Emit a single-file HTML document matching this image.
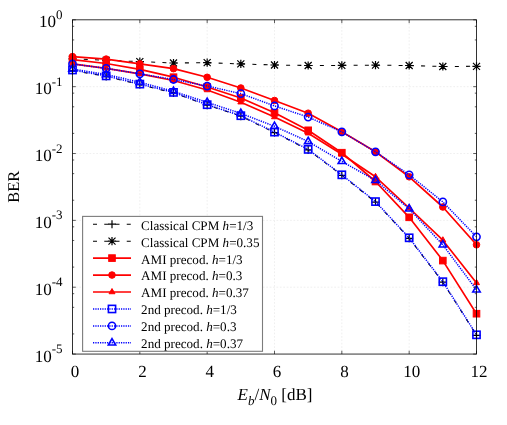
<!DOCTYPE html>
<html><head><meta charset="utf-8"><title>BER vs Eb/N0</title>
<style>
html,body{margin:0;padding:0;background:#fff;}
body{width:507px;height:425px;overflow:hidden;position:relative;font-family:"Liberation Serif",serif;}
svg{will-change:transform;}
svg text{font-family:"Liberation Serif",serif;text-rendering:geometricPrecision;}
</style></head><body>
<svg width="507" height="425" viewBox="0 0 507 425" style="position:absolute;left:0;top:0">
<rect width="507" height="425" fill="#ffffff"/>
<path d="M139.83 19.83V354.05M207.17 19.83V354.05M274.5 19.83V354.05M341.83 19.83V354.05M409.17 19.83V354.05M72.5 86.67H476.5M72.5 153.52H476.5M72.5 220.36H476.5M72.5 287.21H476.5" stroke="#ebebeb" stroke-width="0.8" stroke-dasharray="1.7 1.7" fill="none"/>
<defs><clipPath id="c"><rect x="72.5" y="19.83" width="404" height="334.22"/></clipPath></defs>
<g clip-path="url(#c)"><polyline points="72.5,70.5 106.17,76.4 139.83,84.6 173.5,92.9 207.17,105.2 240.83,116.2 274.5,132.6 308.17,149.9 341.83,175.3 375.5,202.1 409.17,238.3 442.83,282.2 476.5,335.3" fill="none" stroke="#000000" stroke-width="1.05" stroke-linejoin="round" stroke-dasharray="4 7.25"/></g>
<g><path d="M68.5 70.5H76.5M72.5 66.5V74.5" stroke="#000000" stroke-width="1.2" fill="none"/><path d="M102.17 76.4H110.17M106.17 72.4V80.4" stroke="#000000" stroke-width="1.2" fill="none"/><path d="M135.83 84.6H143.83M139.83 80.6V88.6" stroke="#000000" stroke-width="1.2" fill="none"/><path d="M169.5 92.9H177.5M173.5 88.9V96.9" stroke="#000000" stroke-width="1.2" fill="none"/><path d="M203.17 105.2H211.17M207.17 101.2V109.2" stroke="#000000" stroke-width="1.2" fill="none"/><path d="M236.83 116.2H244.83M240.83 112.2V120.2" stroke="#000000" stroke-width="1.2" fill="none"/><path d="M270.5 132.6H278.5M274.5 128.6V136.6" stroke="#000000" stroke-width="1.2" fill="none"/><path d="M304.17 149.9H312.17M308.17 145.9V153.9" stroke="#000000" stroke-width="1.2" fill="none"/><path d="M337.83 175.3H345.83M341.83 171.3V179.3" stroke="#000000" stroke-width="1.2" fill="none"/><path d="M371.5 202.1H379.5M375.5 198.1V206.1" stroke="#000000" stroke-width="1.2" fill="none"/><path d="M405.17 238.3H413.17M409.17 234.3V242.3" stroke="#000000" stroke-width="1.2" fill="none"/><path d="M438.83 282.2H446.83M442.83 278.2V286.2" stroke="#000000" stroke-width="1.2" fill="none"/><path d="M472.5 335.3H480.5M476.5 331.3V339.3" stroke="#000000" stroke-width="1.2" fill="none"/></g>
<g clip-path="url(#c)"><polyline points="72.5,58.8 106.17,60.3 139.83,61.6 173.5,63 207.17,62.7 240.83,63.9 274.5,65 308.17,65.5 341.83,65.4 375.5,65.2 409.17,65.5 442.83,66.5 476.5,66.3" fill="none" stroke="#000000" stroke-width="1.05" stroke-linejoin="round" stroke-dasharray="4 7.25"/></g>
<g><path d="M68.4 58.8H76.6M72.5 54.7V62.9M69 55.3L76 62.3M69 62.3L76 55.3" stroke="#000000" stroke-width="1.2" fill="none"/><path d="M102.07 60.3H110.27M106.17 56.2V64.4M102.67 56.8L109.67 63.8M102.67 63.8L109.67 56.8" stroke="#000000" stroke-width="1.2" fill="none"/><path d="M135.73 61.6H143.93M139.83 57.5V65.7M136.33 58.1L143.33 65.1M136.33 65.1L143.33 58.1" stroke="#000000" stroke-width="1.2" fill="none"/><path d="M169.4 63H177.6M173.5 58.9V67.1M170 59.5L177 66.5M170 66.5L177 59.5" stroke="#000000" stroke-width="1.2" fill="none"/><path d="M203.07 62.7H211.27M207.17 58.6V66.8M203.67 59.2L210.67 66.2M203.67 66.2L210.67 59.2" stroke="#000000" stroke-width="1.2" fill="none"/><path d="M236.73 63.9H244.93M240.83 59.8V68M237.33 60.4L244.33 67.4M237.33 67.4L244.33 60.4" stroke="#000000" stroke-width="1.2" fill="none"/><path d="M270.4 65H278.6M274.5 60.9V69.1M271 61.5L278 68.5M271 68.5L278 61.5" stroke="#000000" stroke-width="1.2" fill="none"/><path d="M304.07 65.5H312.27M308.17 61.4V69.6M304.67 62L311.67 69M304.67 69L311.67 62" stroke="#000000" stroke-width="1.2" fill="none"/><path d="M337.73 65.4H345.93M341.83 61.3V69.5M338.33 61.9L345.33 68.9M338.33 68.9L345.33 61.9" stroke="#000000" stroke-width="1.2" fill="none"/><path d="M371.4 65.2H379.6M375.5 61.1V69.3M372 61.7L379 68.7M372 68.7L379 61.7" stroke="#000000" stroke-width="1.2" fill="none"/><path d="M405.07 65.5H413.27M409.17 61.4V69.6M405.67 62L412.67 69M405.67 69L412.67 62" stroke="#000000" stroke-width="1.2" fill="none"/><path d="M438.73 66.5H446.93M442.83 62.4V70.6M439.33 63L446.33 70M439.33 70L446.33 63" stroke="#000000" stroke-width="1.2" fill="none"/><path d="M472.4 66.3H480.6M476.5 62.2V70.4M473 62.8L480 69.8M473 69.8L480 62.8" stroke="#000000" stroke-width="1.2" fill="none"/></g>
<g clip-path="url(#c)"><polyline points="72.5,59.7 106.17,63.5 139.83,69.3 173.5,77.2 207.17,87 240.83,98 274.5,112.8 308.17,130.3 341.83,152.7 375.5,181.5 409.17,217.3 442.83,260.6 476.5,313.7" fill="none" stroke="#ff0000" stroke-width="1.7" stroke-linejoin="round"/></g>
<g><rect x="69.2" y="56.4" width="6.6" height="6.6" fill="#ff0000" stroke="#ff0000" stroke-width="1.0"/><rect x="102.87" y="60.2" width="6.6" height="6.6" fill="#ff0000" stroke="#ff0000" stroke-width="1.0"/><rect x="136.53" y="66" width="6.6" height="6.6" fill="#ff0000" stroke="#ff0000" stroke-width="1.0"/><rect x="170.2" y="73.9" width="6.6" height="6.6" fill="#ff0000" stroke="#ff0000" stroke-width="1.0"/><rect x="203.87" y="83.7" width="6.6" height="6.6" fill="#ff0000" stroke="#ff0000" stroke-width="1.0"/><rect x="237.53" y="94.7" width="6.6" height="6.6" fill="#ff0000" stroke="#ff0000" stroke-width="1.0"/><rect x="271.2" y="109.5" width="6.6" height="6.6" fill="#ff0000" stroke="#ff0000" stroke-width="1.0"/><rect x="304.87" y="127" width="6.6" height="6.6" fill="#ff0000" stroke="#ff0000" stroke-width="1.0"/><rect x="338.53" y="149.4" width="6.6" height="6.6" fill="#ff0000" stroke="#ff0000" stroke-width="1.0"/><rect x="372.2" y="178.2" width="6.6" height="6.6" fill="#ff0000" stroke="#ff0000" stroke-width="1.0"/><rect x="405.87" y="214" width="6.6" height="6.6" fill="#ff0000" stroke="#ff0000" stroke-width="1.0"/><rect x="439.53" y="257.3" width="6.6" height="6.6" fill="#ff0000" stroke="#ff0000" stroke-width="1.0"/><rect x="473.2" y="310.4" width="6.6" height="6.6" fill="#ff0000" stroke="#ff0000" stroke-width="1.0"/></g>
<g clip-path="url(#c)"><polyline points="72.5,56.6 106.17,59.1 139.83,63.9 173.5,68.65 207.17,77.3 240.83,88 274.5,100.5 308.17,113.2 341.83,131.8 375.5,151.8 409.17,176.8 442.83,207 476.5,244.8" fill="none" stroke="#ff0000" stroke-width="1.7" stroke-linejoin="round"/></g>
<g><circle cx="72.5" cy="56.6" r="3.3" fill="#ff0000" stroke="#ff0000" stroke-width="1.0"/><circle cx="106.17" cy="59.1" r="3.3" fill="#ff0000" stroke="#ff0000" stroke-width="1.0"/><circle cx="139.83" cy="63.9" r="3.3" fill="#ff0000" stroke="#ff0000" stroke-width="1.0"/><circle cx="173.5" cy="68.65" r="3.3" fill="#ff0000" stroke="#ff0000" stroke-width="1.0"/><circle cx="207.17" cy="77.3" r="3.3" fill="#ff0000" stroke="#ff0000" stroke-width="1.0"/><circle cx="240.83" cy="88" r="3.3" fill="#ff0000" stroke="#ff0000" stroke-width="1.0"/><circle cx="274.5" cy="100.5" r="3.3" fill="#ff0000" stroke="#ff0000" stroke-width="1.0"/><circle cx="308.17" cy="113.2" r="3.3" fill="#ff0000" stroke="#ff0000" stroke-width="1.0"/><circle cx="341.83" cy="131.8" r="3.3" fill="#ff0000" stroke="#ff0000" stroke-width="1.0"/><circle cx="375.5" cy="151.8" r="3.3" fill="#ff0000" stroke="#ff0000" stroke-width="1.0"/><circle cx="409.17" cy="176.8" r="3.3" fill="#ff0000" stroke="#ff0000" stroke-width="1.0"/><circle cx="442.83" cy="207" r="3.3" fill="#ff0000" stroke="#ff0000" stroke-width="1.0"/><circle cx="476.5" cy="244.8" r="3.3" fill="#ff0000" stroke="#ff0000" stroke-width="1.0"/></g>
<g clip-path="url(#c)"><polyline points="72.5,63.9 106.17,68.3 139.83,73.8 173.5,80.5 207.17,90 240.83,102.2 274.5,117 308.17,133.2 341.83,154.3 375.5,176.8 409.17,208 442.83,240.2 476.5,282.9" fill="none" stroke="#ff0000" stroke-width="1.7" stroke-linejoin="round"/></g>
<g><path d="M72.5 60.44L75.5 65.63L69.5 65.63Z" fill="#ff0000" stroke="#ff0000" stroke-width="1.0" stroke-linejoin="miter"/><path d="M106.17 64.84L109.17 70.03L103.17 70.03Z" fill="#ff0000" stroke="#ff0000" stroke-width="1.0" stroke-linejoin="miter"/><path d="M139.83 70.34L142.83 75.53L136.83 75.53Z" fill="#ff0000" stroke="#ff0000" stroke-width="1.0" stroke-linejoin="miter"/><path d="M173.5 77.04L176.5 82.23L170.5 82.23Z" fill="#ff0000" stroke="#ff0000" stroke-width="1.0" stroke-linejoin="miter"/><path d="M207.17 86.54L210.17 91.73L204.17 91.73Z" fill="#ff0000" stroke="#ff0000" stroke-width="1.0" stroke-linejoin="miter"/><path d="M240.83 98.74L243.83 103.93L237.83 103.93Z" fill="#ff0000" stroke="#ff0000" stroke-width="1.0" stroke-linejoin="miter"/><path d="M274.5 113.54L277.5 118.73L271.5 118.73Z" fill="#ff0000" stroke="#ff0000" stroke-width="1.0" stroke-linejoin="miter"/><path d="M308.17 129.74L311.17 134.93L305.17 134.93Z" fill="#ff0000" stroke="#ff0000" stroke-width="1.0" stroke-linejoin="miter"/><path d="M341.83 150.84L344.83 156.03L338.83 156.03Z" fill="#ff0000" stroke="#ff0000" stroke-width="1.0" stroke-linejoin="miter"/><path d="M375.5 173.34L378.5 178.53L372.5 178.53Z" fill="#ff0000" stroke="#ff0000" stroke-width="1.0" stroke-linejoin="miter"/><path d="M409.17 204.54L412.17 209.73L406.17 209.73Z" fill="#ff0000" stroke="#ff0000" stroke-width="1.0" stroke-linejoin="miter"/><path d="M442.83 236.74L445.83 241.93L439.83 241.93Z" fill="#ff0000" stroke="#ff0000" stroke-width="1.0" stroke-linejoin="miter"/><path d="M476.5 279.44L479.5 284.63L473.5 284.63Z" fill="#ff0000" stroke="#ff0000" stroke-width="1.0" stroke-linejoin="miter"/></g>
<g clip-path="url(#c)"><polyline points="72.5,70 106.17,75.9 139.83,84.1 173.5,92.4 207.17,104.7 240.83,115.7 274.5,132.1 308.17,149.4 341.83,174.8 375.5,201.6 409.17,237.8 442.83,281.7 476.5,334.8" fill="none" stroke="#0000ff" stroke-width="1.5" stroke-linejoin="round" stroke-dasharray="1.25 1.08"/></g>
<g><rect x="68.9" y="66.4" width="7.2" height="7.2" fill="none" stroke="#0000ff" stroke-width="1.6"/><rect x="102.57" y="72.3" width="7.2" height="7.2" fill="none" stroke="#0000ff" stroke-width="1.6"/><rect x="136.23" y="80.5" width="7.2" height="7.2" fill="none" stroke="#0000ff" stroke-width="1.6"/><rect x="169.9" y="88.8" width="7.2" height="7.2" fill="none" stroke="#0000ff" stroke-width="1.6"/><rect x="203.57" y="101.1" width="7.2" height="7.2" fill="none" stroke="#0000ff" stroke-width="1.6"/><rect x="237.23" y="112.1" width="7.2" height="7.2" fill="none" stroke="#0000ff" stroke-width="1.6"/><rect x="270.9" y="128.5" width="7.2" height="7.2" fill="none" stroke="#0000ff" stroke-width="1.6"/><rect x="304.57" y="145.8" width="7.2" height="7.2" fill="none" stroke="#0000ff" stroke-width="1.6"/><rect x="338.23" y="171.2" width="7.2" height="7.2" fill="none" stroke="#0000ff" stroke-width="1.6"/><rect x="371.9" y="198" width="7.2" height="7.2" fill="none" stroke="#0000ff" stroke-width="1.6"/><rect x="405.57" y="234.2" width="7.2" height="7.2" fill="none" stroke="#0000ff" stroke-width="1.6"/><rect x="439.23" y="278.1" width="7.2" height="7.2" fill="none" stroke="#0000ff" stroke-width="1.6"/><rect x="472.9" y="331.2" width="7.2" height="7.2" fill="none" stroke="#0000ff" stroke-width="1.6"/></g>
<g clip-path="url(#c)"><polyline points="72.5,64 106.17,68.4 139.83,73.8 173.5,79.5 207.17,86.1 240.83,93.6 274.5,105.9 308.17,117.1 341.83,131.8 375.5,151.8 409.17,174.8 442.83,201.9 476.5,236.8" fill="none" stroke="#0000ff" stroke-width="1.5" stroke-linejoin="round" stroke-dasharray="1.25 1.08"/></g>
<g><circle cx="72.5" cy="64" r="3.6" fill="none" stroke="#0000ff" stroke-width="1.6"/><circle cx="106.17" cy="68.4" r="3.6" fill="none" stroke="#0000ff" stroke-width="1.6"/><circle cx="139.83" cy="73.8" r="3.6" fill="none" stroke="#0000ff" stroke-width="1.6"/><circle cx="173.5" cy="79.5" r="3.6" fill="none" stroke="#0000ff" stroke-width="1.6"/><circle cx="207.17" cy="86.1" r="3.6" fill="none" stroke="#0000ff" stroke-width="1.6"/><circle cx="240.83" cy="93.6" r="3.6" fill="none" stroke="#0000ff" stroke-width="1.6"/><circle cx="274.5" cy="105.9" r="3.6" fill="none" stroke="#0000ff" stroke-width="1.6"/><circle cx="308.17" cy="117.1" r="3.6" fill="none" stroke="#0000ff" stroke-width="1.6"/><circle cx="341.83" cy="131.8" r="3.6" fill="none" stroke="#0000ff" stroke-width="1.6"/><circle cx="375.5" cy="151.8" r="3.6" fill="none" stroke="#0000ff" stroke-width="1.6"/><circle cx="409.17" cy="174.8" r="3.6" fill="none" stroke="#0000ff" stroke-width="1.6"/><circle cx="442.83" cy="201.9" r="3.6" fill="none" stroke="#0000ff" stroke-width="1.6"/><circle cx="476.5" cy="236.8" r="3.6" fill="none" stroke="#0000ff" stroke-width="1.6"/></g>
<g clip-path="url(#c)"><polyline points="72.5,69 106.17,74.5 139.83,82.2 173.5,91.3 207.17,102.3 240.83,113.4 274.5,126.3 308.17,141.5 341.83,161.4 375.5,180.4 409.17,208.9 442.83,244.8 476.5,289.8" fill="none" stroke="#0000ff" stroke-width="1.5" stroke-linejoin="round" stroke-dasharray="1.25 1.08"/></g>
<g><path d="M72.5 64.73L76.2 71.14L68.8 71.14Z" fill="none" stroke="#0000ff" stroke-width="1.6" stroke-linejoin="miter"/><path d="M106.17 70.23L109.87 76.64L102.47 76.64Z" fill="none" stroke="#0000ff" stroke-width="1.6" stroke-linejoin="miter"/><path d="M139.83 77.93L143.53 84.34L136.13 84.34Z" fill="none" stroke="#0000ff" stroke-width="1.6" stroke-linejoin="miter"/><path d="M173.5 87.03L177.2 93.44L169.8 93.44Z" fill="none" stroke="#0000ff" stroke-width="1.6" stroke-linejoin="miter"/><path d="M207.17 98.03L210.87 104.44L203.47 104.44Z" fill="none" stroke="#0000ff" stroke-width="1.6" stroke-linejoin="miter"/><path d="M240.83 109.13L244.53 115.54L237.13 115.54Z" fill="none" stroke="#0000ff" stroke-width="1.6" stroke-linejoin="miter"/><path d="M274.5 122.03L278.2 128.44L270.8 128.44Z" fill="none" stroke="#0000ff" stroke-width="1.6" stroke-linejoin="miter"/><path d="M308.17 137.23L311.87 143.64L304.47 143.64Z" fill="none" stroke="#0000ff" stroke-width="1.6" stroke-linejoin="miter"/><path d="M341.83 157.13L345.53 163.54L338.13 163.54Z" fill="none" stroke="#0000ff" stroke-width="1.6" stroke-linejoin="miter"/><path d="M375.5 176.13L379.2 182.54L371.8 182.54Z" fill="none" stroke="#0000ff" stroke-width="1.6" stroke-linejoin="miter"/><path d="M409.17 204.63L412.87 211.04L405.47 211.04Z" fill="none" stroke="#0000ff" stroke-width="1.6" stroke-linejoin="miter"/><path d="M442.83 240.53L446.53 246.94L439.13 246.94Z" fill="none" stroke="#0000ff" stroke-width="1.6" stroke-linejoin="miter"/><path d="M476.5 285.53L480.2 291.94L472.8 291.94Z" fill="none" stroke="#0000ff" stroke-width="1.6" stroke-linejoin="miter"/></g>
<path d="M72.5 354.05v-3.3M72.5 19.83v3.3M139.83 354.05v-3.3M139.83 19.83v3.3M207.17 354.05v-3.3M207.17 19.83v3.3M274.5 354.05v-3.3M274.5 19.83v3.3M341.83 354.05v-3.3M341.83 19.83v3.3M409.17 354.05v-3.3M409.17 19.83v3.3M476.5 354.05v-3.3M476.5 19.83v3.3M72.5 19.83h3.3M476.5 19.83h-3.3M72.5 66.55h1.7M476.5 66.55h-1.7M72.5 39.95h1.7M476.5 39.95h-1.7M72.5 26.31h1.7M476.5 26.31h-1.7M72.5 86.67h3.3M476.5 86.67h-3.3M72.5 133.4h1.7M476.5 133.4h-1.7M72.5 106.8h1.7M476.5 106.8h-1.7M72.5 93.15h1.7M476.5 93.15h-1.7M72.5 153.52h3.3M476.5 153.52h-3.3M72.5 200.24h1.7M476.5 200.24h-1.7M72.5 173.64h1.7M476.5 173.64h-1.7M72.5 160h1.7M476.5 160h-1.7M72.5 220.36h3.3M476.5 220.36h-3.3M72.5 267.08h1.7M476.5 267.08h-1.7M72.5 240.48h1.7M476.5 240.48h-1.7M72.5 226.84h1.7M476.5 226.84h-1.7M72.5 287.21h3.3M476.5 287.21h-3.3M72.5 333.93h1.7M476.5 333.93h-1.7M72.5 307.33h1.7M476.5 307.33h-1.7M72.5 293.68h1.7M476.5 293.68h-1.7M72.5 354.05h3.3M476.5 354.05h-3.3" stroke="#333" stroke-width="0.8" fill="none"/>
<rect x="72.5" y="19.83" width="404" height="334.22" fill="none" stroke="#000" stroke-width="0.8"/>
<rect x="82.6" y="216.4" width="179.9" height="134.9" fill="#fff" stroke="#7c7c7c" stroke-width="1.1"/>
<path d="M93 224.2H131" stroke="#000000" stroke-width="1.05" stroke-dasharray="4 7.25" fill="none"/>
<path d="M108 224.2H116M112 220.2V228.2" stroke="#000000" stroke-width="1.2" fill="none"/>
<text x="141.1" y="229.6" font-size="13.1" fill="#000">Classical CPM <tspan font-style="italic">h</tspan>=1/3</text>
<path d="M93 241.15H131" stroke="#000000" stroke-width="1.05" stroke-dasharray="4 7.25" fill="none"/>
<path d="M107.9 241.15H116.1M112 237.05V245.25M108.5 237.65L115.5 244.65M108.5 244.65L115.5 237.65" stroke="#000000" stroke-width="1.2" fill="none"/>
<text x="141.1" y="246.55" font-size="13.1" fill="#000">Classical CPM <tspan font-style="italic">h</tspan>=0.35</text>
<path d="M93 258.1H131" stroke="#ff0000" stroke-width="1.7" fill="none"/>
<rect x="108.7" y="254.8" width="6.6" height="6.6" fill="#ff0000" stroke="#ff0000" stroke-width="1.0"/>
<text x="141.1" y="263.5" font-size="13.1" fill="#000">AMI precod. <tspan font-style="italic">h</tspan>=1/3</text>
<path d="M93 275.05H131" stroke="#ff0000" stroke-width="1.7" fill="none"/>
<circle cx="112" cy="275.05" r="3.3" fill="#ff0000" stroke="#ff0000" stroke-width="1.0"/>
<text x="141.1" y="280.45" font-size="13.1" fill="#000">AMI precod. <tspan font-style="italic">h</tspan>=0.3</text>
<path d="M93 292H131" stroke="#ff0000" stroke-width="1.7" fill="none"/>
<path d="M112 288.54L115 293.73L109 293.73Z" fill="#ff0000" stroke="#ff0000" stroke-width="1.0" stroke-linejoin="miter"/>
<text x="141.1" y="297.4" font-size="13.1" fill="#000">AMI precod. <tspan font-style="italic">h</tspan>=0.37</text>
<path d="M93 308.95H131" stroke="#0000ff" stroke-width="1.5" stroke-dasharray="1.25 1.08" fill="none"/>
<rect x="108.4" y="305.35" width="7.2" height="7.2" fill="none" stroke="#0000ff" stroke-width="1.6"/>
<text x="141.1" y="314.35" font-size="13.1" fill="#000">2nd precod. <tspan font-style="italic">h</tspan>=1/3</text>
<path d="M93 325.9H131" stroke="#0000ff" stroke-width="1.5" stroke-dasharray="1.25 1.08" fill="none"/>
<circle cx="112" cy="325.9" r="3.6" fill="none" stroke="#0000ff" stroke-width="1.6"/>
<text x="141.1" y="331.3" font-size="13.1" fill="#000">2nd precod. <tspan font-style="italic">h</tspan>=0.3</text>
<path d="M93 342.85H131" stroke="#0000ff" stroke-width="1.5" stroke-dasharray="1.25 1.08" fill="none"/>
<path d="M112 338.58L115.7 344.99L108.3 344.99Z" fill="none" stroke="#0000ff" stroke-width="1.6" stroke-linejoin="miter"/>
<text x="141.1" y="348.25" font-size="13.1" fill="#000">2nd precod. <tspan font-style="italic">h</tspan>=0.37</text>
<text x="75.1" y="376.6" font-size="17" text-anchor="middle" fill="#000">0</text>
<text x="142.43" y="376.6" font-size="17" text-anchor="middle" fill="#000">2</text>
<text x="209.77" y="376.6" font-size="17" text-anchor="middle" fill="#000">4</text>
<text x="277.1" y="376.6" font-size="17" text-anchor="middle" fill="#000">6</text>
<text x="344.43" y="376.6" font-size="17" text-anchor="middle" fill="#000">8</text>
<text x="411.77" y="376.6" font-size="17" text-anchor="middle" fill="#000">10</text>
<text x="479.1" y="376.6" font-size="17" text-anchor="middle" fill="#000">12</text>
<text x="62.6" y="27.33" font-size="17" text-anchor="end" fill="#000">10<tspan font-size="13" dy="-8.5">0</tspan></text>
<text x="62.6" y="94.17" font-size="17" text-anchor="end" fill="#000">10<tspan font-size="13" dy="-8.5">-1</tspan></text>
<text x="62.6" y="161.02" font-size="17" text-anchor="end" fill="#000">10<tspan font-size="13" dy="-8.5">-2</tspan></text>
<text x="62.6" y="227.86" font-size="17" text-anchor="end" fill="#000">10<tspan font-size="13" dy="-8.5">-3</tspan></text>
<text x="62.6" y="294.71" font-size="17" text-anchor="end" fill="#000">10<tspan font-size="13" dy="-8.5">-4</tspan></text>
<text x="62.6" y="361.55" font-size="17" text-anchor="end" fill="#000">10<tspan font-size="13" dy="-8.5">-5</tspan></text>
<text x="237.6" y="400.2" font-size="17" fill="#000"><tspan font-style="italic">E</tspan><tspan font-style="italic" font-size="13" dy="4.3">b</tspan><tspan dy="-4.3">/</tspan><tspan font-style="italic">N</tspan><tspan font-size="13" dy="4.3">0</tspan><tspan dy="-4.3"> [dB]</tspan></text>
<text transform="translate(18.8 186.8) rotate(-90)" font-size="16.4" text-anchor="middle" fill="#000">BER</text>
</svg>
</body></html>
